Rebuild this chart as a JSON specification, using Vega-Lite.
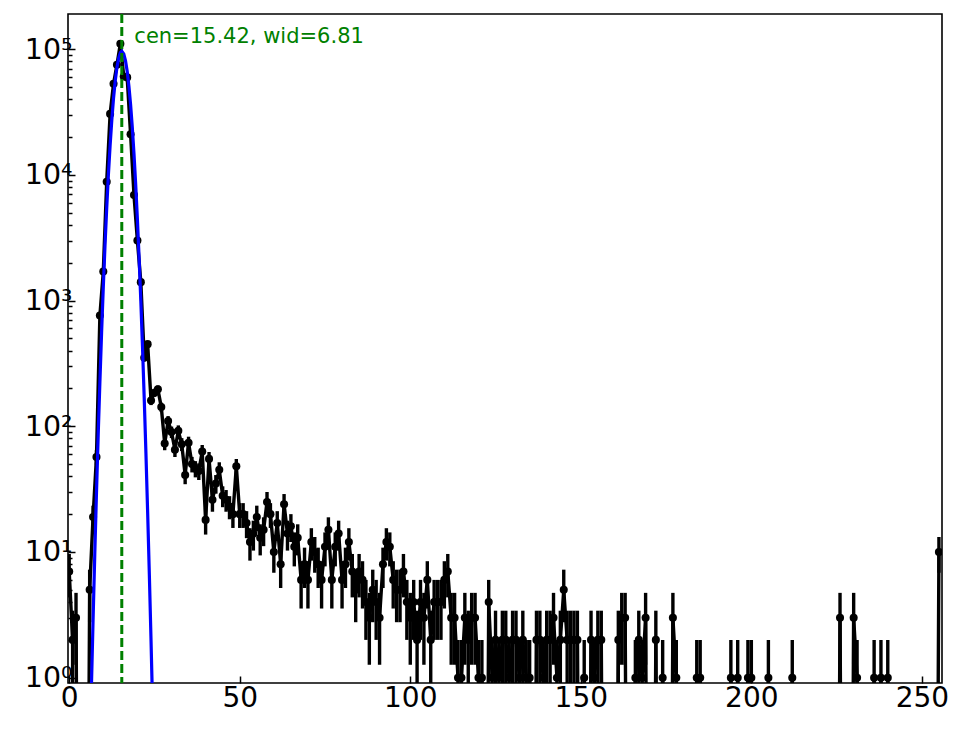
{
"$schema": "https://vega.github.io/schema/vega-lite/v6.json",
"width": 874, "height": 669,
"autosize": {"type": "none"},
"padding": {"left": 68, "top": 14, "right": 22, "bottom": 46},
"config": {"view": {"stroke": "black", "strokeWidth": 1.6}, "background": "white"},
"datasets": {
"counts": [
{"x":0,"n":7,"lo":4.354,"hi":9.646},{"x":1,"n":2,"lo":0.586,"hi":3.414},{"x":2,"n":3,"lo":1.268,"hi":4.732},{"x":3,"n":0,"lo":0,"hi":0},{"x":4,"n":0,"lo":0,"hi":0},{"x":5,"n":0,"lo":0,"hi":0},
{"x":6,"n":5,"lo":2.764,"hi":7.236},{"x":7,"n":19,"lo":14.641,"hi":23.359},{"x":8,"n":57,"lo":49.45,"hi":64.55},{"x":9,"n":760,"lo":732.43,"hi":787.57},
{"x":10,"n":1700,"lo":1658.77,"hi":1741.23},{"x":11,"n":8800,"lo":8706.19,"hi":8893.81},{"x":12,"n":30500,"lo":30325.36,"hi":30674.64},{"x":13,"n":53000,"lo":52769.78,"hi":53230.22},
{"x":14,"n":75000,"lo":74726.14,"hi":75273.86},{"x":15,"n":110000,"lo":109668.34,"hi":110331.66},{"x":16,"n":60500,"lo":60254.03,"hi":60745.97},{"x":17,"n":59500,"lo":59256.07,"hi":59743.93},
{"x":18,"n":21000,"lo":20855.09,"hi":21144.91},{"x":19,"n":6900,"lo":6816.93,"hi":6983.07},{"x":20,"n":3000,"lo":2945.23,"hi":3054.77},{"x":21,"n":1400,"lo":1362.58,"hi":1437.42},
{"x":22,"n":350,"lo":331.29,"hi":368.71},{"x":23,"n":450,"lo":428.79,"hi":471.21},{"x":24,"n":160,"lo":147.351,"hi":172.649},{"x":25,"n":185,"lo":171.399,"hi":198.601},
{"x":26,"n":197,"lo":182.964,"hi":211.036},{"x":27,"n":142,"lo":130.084,"hi":153.916},{"x":28,"n":73,"lo":64.456,"hi":81.544},{"x":29,"n":110,"lo":99.512,"hi":120.488},
{"x":30,"n":90,"lo":80.513,"hi":99.487},{"x":31,"n":65,"lo":56.938,"hi":73.062},{"x":32,"n":92,"lo":82.408,"hi":101.592},{"x":33,"n":72,"lo":63.515,"hi":80.485},
{"x":34,"n":41,"lo":34.597,"hi":47.403},{"x":35,"n":74,"lo":65.398,"hi":82.602},{"x":36,"n":50,"lo":42.929,"hi":57.071},{"x":37,"n":46,"lo":39.218,"hi":52.782},
{"x":38,"n":44,"lo":37.367,"hi":50.633},{"x":39,"n":63,"lo":55.063,"hi":70.937},{"x":40,"n":18,"lo":13.757,"hi":22.243},{"x":41,"n":55,"lo":47.584,"hi":62.416},
{"x":42,"n":26,"lo":20.901,"hi":31.099},{"x":43,"n":35,"lo":29.084,"hi":40.916},{"x":44,"n":45,"lo":38.292,"hi":51.708},{"x":45,"n":28,"lo":22.708,"hi":33.292},
{"x":46,"n":26,"lo":20.901,"hi":31.099},{"x":47,"n":23,"lo":18.204,"hi":27.796},{"x":48,"n":20,"lo":15.528,"hi":24.472},{"x":49,"n":48,"lo":41.072,"hi":54.928},
{"x":50,"n":20,"lo":15.528,"hi":24.472},{"x":51,"n":20,"lo":15.528,"hi":24.472},{"x":52,"n":17,"lo":12.877,"hi":21.123},{"x":53,"n":12,"lo":8.536,"hi":15.464},
{"x":54,"n":14,"lo":10.258,"hi":17.742},{"x":55,"n":19,"lo":14.641,"hi":23.359},{"x":56,"n":13,"lo":9.394,"hi":16.606},{"x":57,"n":15,"lo":11.127,"hi":18.873},
{"x":58,"n":25,"lo":20,"hi":30},{"x":59,"n":20,"lo":15.528,"hi":24.472},{"x":60,"n":10,"lo":6.838,"hi":13.162},{"x":61,"n":17,"lo":12.877,"hi":21.123},
{"x":62,"n":8,"lo":5.172,"hi":10.828},{"x":63,"n":24,"lo":19.101,"hi":28.899},{"x":64,"n":14,"lo":10.258,"hi":17.742},{"x":65,"n":16,"lo":12,"hi":20},
{"x":66,"n":11,"lo":7.683,"hi":14.317},{"x":67,"n":13,"lo":9.394,"hi":16.606},{"x":68,"n":6,"lo":3.551,"hi":8.449},{"x":69,"n":8,"lo":5.172,"hi":10.828},
{"x":70,"n":6,"lo":3.551,"hi":8.449},{"x":71,"n":12,"lo":8.536,"hi":15.464},{"x":72,"n":10,"lo":6.838,"hi":13.162},{"x":73,"n":8,"lo":5.172,"hi":10.828},
{"x":74,"n":6,"lo":3.551,"hi":8.449},{"x":75,"n":11,"lo":7.683,"hi":14.317},{"x":76,"n":15,"lo":11.127,"hi":18.873},{"x":77,"n":6,"lo":3.551,"hi":8.449},
{"x":78,"n":11,"lo":7.683,"hi":14.317},{"x":79,"n":14,"lo":10.258,"hi":17.742},{"x":80,"n":6,"lo":3.551,"hi":8.449},{"x":81,"n":8,"lo":5.172,"hi":10.828},
{"x":82,"n":12,"lo":8.536,"hi":15.464},{"x":83,"n":7,"lo":4.354,"hi":9.646},{"x":84,"n":5,"lo":2.764,"hi":7.236},{"x":85,"n":7,"lo":4.354,"hi":9.646},
{"x":86,"n":6,"lo":3.551,"hi":8.449},{"x":87,"n":4,"lo":2,"hi":6},{"x":88,"n":3,"lo":1.268,"hi":4.732},{"x":89,"n":5,"lo":2.764,"hi":7.236},
{"x":90,"n":4,"lo":2,"hi":6},{"x":91,"n":3,"lo":1.268,"hi":4.732},{"x":92,"n":8,"lo":5.172,"hi":10.828},{"x":93,"n":12,"lo":8.536,"hi":15.464},
{"x":94,"n":11,"lo":7.683,"hi":14.317},{"x":95,"n":6,"lo":3.551,"hi":8.449},{"x":96,"n":5,"lo":2.764,"hi":7.236},{"x":97,"n":5,"lo":2.764,"hi":7.236},
{"x":98,"n":7,"lo":4.354,"hi":9.646},{"x":99,"n":4,"lo":2,"hi":6},{"x":100,"n":3,"lo":1.268,"hi":4.732},{"x":101,"n":4,"lo":2,"hi":6},
{"x":102,"n":2,"lo":0.586,"hi":3.414},{"x":103,"n":4,"lo":2,"hi":6},{"x":104,"n":3,"lo":1.268,"hi":4.732},{"x":105,"n":6,"lo":3.551,"hi":8.449},
{"x":106,"n":2,"lo":0.586,"hi":3.414},{"x":107,"n":4,"lo":2,"hi":6},{"x":108,"n":4,"lo":2,"hi":6},{"x":109,"n":4,"lo":2,"hi":6},
{"x":110,"n":6,"lo":3.551,"hi":8.449},{"x":111,"n":7,"lo":4.354,"hi":9.646},{"x":112,"n":3,"lo":1.268,"hi":4.732},{"x":113,"n":3,"lo":1.268,"hi":4.732},
{"x":114,"n":1,"lo":0,"hi":2},{"x":115,"n":1,"lo":0,"hi":2},{"x":116,"n":3,"lo":1.268,"hi":4.732},{"x":117,"n":2,"lo":0.586,"hi":3.414},
{"x":118,"n":3,"lo":1.268,"hi":4.732},{"x":119,"n":3,"lo":1.268,"hi":4.732},{"x":120,"n":1,"lo":0,"hi":2},{"x":121,"n":1,"lo":0,"hi":2},
{"x":122,"n":0,"lo":0,"hi":0},{"x":123,"n":4,"lo":2,"hi":6},{"x":124,"n":1,"lo":0,"hi":2},{"x":125,"n":2,"lo":0.586,"hi":3.414},
{"x":126,"n":1,"lo":0,"hi":2},{"x":127,"n":2,"lo":0.586,"hi":3.414},{"x":128,"n":2,"lo":0.586,"hi":3.414},{"x":129,"n":1,"lo":0,"hi":2},
{"x":130,"n":2,"lo":0.586,"hi":3.414},{"x":131,"n":2,"lo":0.586,"hi":3.414},{"x":132,"n":1,"lo":0,"hi":2},{"x":133,"n":2,"lo":0.586,"hi":3.414},
{"x":134,"n":1,"lo":0,"hi":2},{"x":135,"n":1,"lo":0,"hi":2},{"x":136,"n":0,"lo":0,"hi":0},{"x":137,"n":2,"lo":0.586,"hi":3.414},
{"x":138,"n":2,"lo":0.586,"hi":3.414},{"x":139,"n":1,"lo":0,"hi":2},{"x":140,"n":2,"lo":0.586,"hi":3.414},{"x":141,"n":2,"lo":0.586,"hi":3.414},
{"x":142,"n":3,"lo":1.268,"hi":4.732},{"x":143,"n":1,"lo":0,"hi":2},{"x":144,"n":2,"lo":0.586,"hi":3.414},{"x":145,"n":5,"lo":2.764,"hi":7.236},
{"x":146,"n":2,"lo":0.586,"hi":3.414},{"x":147,"n":2,"lo":0.586,"hi":3.414},{"x":148,"n":2,"lo":0.586,"hi":3.414},{"x":149,"n":2,"lo":0.586,"hi":3.414},
{"x":150,"n":0,"lo":0,"hi":0},{"x":151,"n":1,"lo":0,"hi":2},{"x":152,"n":0,"lo":0,"hi":0},{"x":153,"n":2,"lo":0.586,"hi":3.414},
{"x":154,"n":1,"lo":0,"hi":2},{"x":155,"n":2,"lo":0.586,"hi":3.414},{"x":156,"n":2,"lo":0.586,"hi":3.414},{"x":157,"n":0,"lo":0,"hi":0},
{"x":158,"n":0,"lo":0,"hi":0},{"x":159,"n":0,"lo":0,"hi":0},{"x":160,"n":0,"lo":0,"hi":0},{"x":161,"n":2,"lo":0.586,"hi":3.414},
{"x":162,"n":3,"lo":1.268,"hi":4.732},{"x":163,"n":3,"lo":1.268,"hi":4.732},{"x":164,"n":0,"lo":0,"hi":0},{"x":165,"n":0,"lo":0,"hi":0},
{"x":166,"n":1,"lo":0,"hi":2},{"x":167,"n":2,"lo":0.586,"hi":3.414},{"x":168,"n":1,"lo":0,"hi":2},{"x":169,"n":3,"lo":1.268,"hi":4.732},
{"x":170,"n":0,"lo":0,"hi":0},{"x":171,"n":0,"lo":0,"hi":0},{"x":172,"n":2,"lo":0.586,"hi":3.414},{"x":173,"n":0,"lo":0,"hi":0},
{"x":174,"n":1,"lo":0,"hi":2},{"x":175,"n":0,"lo":0,"hi":0},{"x":176,"n":0,"lo":0,"hi":0},{"x":177,"n":3,"lo":1.268,"hi":4.732},
{"x":178,"n":1,"lo":0,"hi":2},{"x":179,"n":0,"lo":0,"hi":0},{"x":180,"n":0,"lo":0,"hi":0},{"x":181,"n":0,"lo":0,"hi":0},
{"x":182,"n":0,"lo":0,"hi":0},{"x":183,"n":0,"lo":0,"hi":0},{"x":184,"n":1,"lo":0,"hi":2},{"x":185,"n":1,"lo":0,"hi":2},
{"x":186,"n":0,"lo":0,"hi":0},{"x":187,"n":0,"lo":0,"hi":0},{"x":188,"n":0,"lo":0,"hi":0},{"x":189,"n":0,"lo":0,"hi":0},
{"x":190,"n":0,"lo":0,"hi":0},{"x":191,"n":0,"lo":0,"hi":0},{"x":192,"n":0,"lo":0,"hi":0},{"x":193,"n":0,"lo":0,"hi":0},
{"x":194,"n":1,"lo":0,"hi":2},{"x":195,"n":0,"lo":0,"hi":0},{"x":196,"n":1,"lo":0,"hi":2},{"x":197,"n":0,"lo":0,"hi":0},
{"x":198,"n":0,"lo":0,"hi":0},{"x":199,"n":1,"lo":0,"hi":2},{"x":200,"n":1,"lo":0,"hi":2},{"x":201,"n":0,"lo":0,"hi":0},
{"x":202,"n":0,"lo":0,"hi":0},{"x":203,"n":0,"lo":0,"hi":0},{"x":204,"n":0,"lo":0,"hi":0},{"x":205,"n":1,"lo":0,"hi":2},
{"x":206,"n":0,"lo":0,"hi":0},{"x":207,"n":0,"lo":0,"hi":0},{"x":208,"n":0,"lo":0,"hi":0},{"x":209,"n":0,"lo":0,"hi":0},
{"x":210,"n":0,"lo":0,"hi":0},{"x":211,"n":0,"lo":0,"hi":0},{"x":212,"n":1,"lo":0,"hi":2},{"x":213,"n":0,"lo":0,"hi":0},
{"x":214,"n":0,"lo":0,"hi":0},{"x":215,"n":0,"lo":0,"hi":0},{"x":216,"n":0,"lo":0,"hi":0},{"x":217,"n":0,"lo":0,"hi":0},
{"x":218,"n":0,"lo":0,"hi":0},{"x":219,"n":0,"lo":0,"hi":0},{"x":220,"n":0,"lo":0,"hi":0},{"x":221,"n":0,"lo":0,"hi":0},
{"x":222,"n":0,"lo":0,"hi":0},{"x":223,"n":0,"lo":0,"hi":0},{"x":224,"n":0,"lo":0,"hi":0},{"x":225,"n":0,"lo":0,"hi":0},
{"x":226,"n":3,"lo":1.268,"hi":4.732},{"x":227,"n":0,"lo":0,"hi":0},{"x":228,"n":0,"lo":0,"hi":0},{"x":229,"n":0,"lo":0,"hi":0},
{"x":230,"n":3,"lo":1.268,"hi":4.732},{"x":231,"n":1,"lo":0,"hi":2},{"x":232,"n":0,"lo":0,"hi":0},{"x":233,"n":0,"lo":0,"hi":0},
{"x":234,"n":0,"lo":0,"hi":0},{"x":235,"n":0,"lo":0,"hi":0},{"x":236,"n":1,"lo":0,"hi":2},{"x":237,"n":0,"lo":0,"hi":0},
{"x":238,"n":1,"lo":0,"hi":2},{"x":239,"n":0,"lo":0,"hi":0},{"x":240,"n":1,"lo":0,"hi":2},{"x":241,"n":0,"lo":0,"hi":0},
{"x":242,"n":0,"lo":0,"hi":0},{"x":243,"n":0,"lo":0,"hi":0},{"x":244,"n":0,"lo":0,"hi":0},{"x":245,"n":0,"lo":0,"hi":0},
{"x":246,"n":0,"lo":0,"hi":0},{"x":247,"n":0,"lo":0,"hi":0},{"x":248,"n":0,"lo":0,"hi":0},{"x":249,"n":0,"lo":0,"hi":0},
{"x":250,"n":0,"lo":0,"hi":0},{"x":251,"n":0,"lo":0,"hi":0},{"x":252,"n":0,"lo":0,"hi":0},{"x":253,"n":0,"lo":0,"hi":0},
{"x":254,"n":0,"lo":0,"hi":0},{"x":255,"n":10,"lo":6.838,"hi":13.162}
],
"fit": [
{"gx":5.5,"gy":0.0508},{"gx":6.0,"gy":0.2104},{"gx":6.5,"gy":0.809},{"gx":7.0,"gy":2.89},{"gx":7.5,"gy":9.59},{"gx":8.0,"gy":29.6},
{"gx":8.5,"gy":84.7},{"gx":9.0,"gy":225.4},{"gx":9.5,"gy":558.5},{"gx":10.0,"gy":1282},{"gx":10.5,"gy":2742},{"gx":11.0,"gy":5445},
{"gx":11.5,"gy":10046},{"gx":12.0,"gy":17219},{"gx":12.5,"gy":27416},{"gx":13.0,"gy":40644},{"gx":13.5,"gy":55847},{"gx":14.0,"gy":71450},
{"gx":14.5,"gy":84723},{"gx":15.0,"gy":93541},{"gx":15.42,"gy":96000},{"gx":16.0,"gy":91400},{"gx":16.5,"gy":80890},{"gx":17.0,"gy":66550},
{"gx":17.5,"gy":50870},{"gx":18.0,"gy":36130},{"gx":18.5,"gy":23840},{"gx":19.0,"gy":14620},{"gx":19.5,"gy":8330},{"gx":20.0,"gy":4412},
{"gx":20.5,"gy":2171},{"gx":21.0,"gy":992.4},{"gx":21.5,"gy":421.6},{"gx":22.0,"gy":166.4},{"gx":22.5,"gy":61.05},{"gx":23.0,"gy":20.81},
{"gx":23.5,"gy":6.59},{"gx":24.0,"gy":1.94},{"gx":24.5,"gy":0.53},{"gx":25.0,"gy":0.1347}
],
"note": [{"cen":15.42,"wid":6.81,"label":"cen=15.42, wid=6.81"}]
},
"layer": [
{
"data": {"name": "counts"},
"transform": [{"filter": "datum.n > 0"}, {"calculate": "max(datum.lo, 0.0001)", "as": "loClip"}],
"mark": {"type": "rule", "color": "black", "strokeWidth": 3.4, "clip": true},
"encoding": {
"x": {"field": "x", "type": "quantitative", "title": null, "scale": {"domain": [-0.35, 255.9], "nice": false, "zero": false},
"axis": {"title": null, "values": [0,50,100,150,200,250], "grid": false, "domain": false, "tickSize": -7, "tickWidth": 1.5, "tickColor": "black",
"labelFont": "DejaVu Sans", "labelFontSize": 28, "labelColor": "black", "labelPadding": 8, "labelFlush": false, "labelOverlap": false, "labelBound": false}},
"y": {"field": "loClip", "type": "quantitative", "title": null, "scale": {"type": "log", "domain": [0.908, 190000], "nice": false},
"axis": {"title": null, "values": [1,2,3,4,5,6,7,8,9,10,20,30,40,50,60,70,80,90,100,200,300,400,500,600,700,800,900,1000,2000,3000,4000,5000,6000,7000,8000,9000,10000,20000,30000,40000,50000,60000,70000,80000,90000,100000],
"grid": false, "domain": false, "tickColor": "black", "tickWidth": 1.5,
"tickSize": {"condition": {"test": "abs(log(datum.value)/LN10 - round(log(datum.value)/LN10)) < 0.001", "value": -7}, "value": -4},
"labelExpr": "abs(log(datum.value)/LN10 - round(log(datum.value)/LN10)) < 0.001 ? '10' + ['⁰','¹','²','³','⁴','⁵'][round(log(datum.value)/LN10)] : ''",
"labelFont": "DejaVu Sans", "labelFontSize": 28.5, "labelColor": "black", "labelPadding": 3, "labelOverlap": false, "labelBound": false, "labelFlush": false}},
"y2": {"field": "hi"}
}
},
{
"data": {"name": "counts"},
"transform": [{"calculate": "max(datum.n, 0.0001)", "as": "nClip"}],
"mark": {"type": "line", "color": "black", "strokeWidth": 3.4, "clip": true},
"encoding": {
"x": {"field": "x", "type": "quantitative", "title": null, "scale": {"domain": [-0.35, 255.9], "nice": false, "zero": false}},
"y": {"field": "nClip", "type": "quantitative", "title": null, "scale": {"type": "log", "domain": [0.908, 190000], "nice": false}}
}
},
{
"data": {"name": "counts"},
"transform": [{"filter": "datum.n > 0"}],
"mark": {"type": "circle", "color": "black", "size": 65, "opacity": 1, "clip": true},
"encoding": {
"x": {"field": "x", "type": "quantitative", "title": null, "scale": {"domain": [-0.35, 255.9], "nice": false, "zero": false}},
"y": {"field": "n", "type": "quantitative", "title": null, "scale": {"type": "log", "domain": [0.908, 190000], "nice": false}}
}
},
{
"data": {"name": "fit"},
"mark": {"type": "line", "color": "#0000ff", "strokeWidth": 3.2, "clip": true},
"encoding": {
"x": {"field": "gx", "type": "quantitative", "title": null, "scale": {"domain": [-0.35, 255.9], "nice": false, "zero": false}},
"y": {"field": "gy", "type": "quantitative", "title": null, "scale": {"type": "log", "domain": [0.908, 190000], "nice": false}}
}
},
{
"data": {"name": "note"},
"mark": {"type": "rule", "color": "#008000", "strokeWidth": 3, "strokeDash": [9, 4]},
"encoding": {
"x": {"field": "cen", "type": "quantitative", "title": null, "scale": {"domain": [-0.35, 255.9], "nice": false, "zero": false}}
}
},
{
"data": {"name": "note"},
"mark": {"type": "text", "color": "#008000", "font": "DejaVu Sans", "fontSize": 21, "align": "left", "baseline": "alphabetic"},
"encoding": {
"x": {"datum": 19.1, "type": "quantitative", "title": null, "scale": {"domain": [-0.35, 255.9], "nice": false, "zero": false}},
"y": {"datum": 110800, "type": "quantitative", "title": null, "scale": {"type": "log", "domain": [0.908, 190000], "nice": false}},
"text": {"field": "label"}
}
}
]
}
